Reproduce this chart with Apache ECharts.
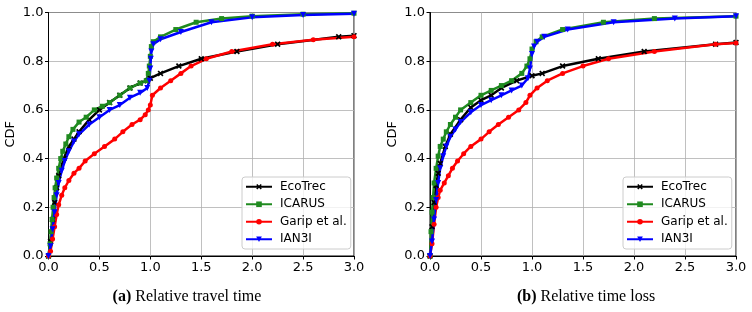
<!DOCTYPE html>
<html>
<head>
<meta charset="utf-8">
<script src="https://cdn.jsdelivr.net/npm/echarts@6/dist/echarts.min.js"></script>
<style>
  html, body { margin: 0; padding: 0; background: #fff; }
  #chart { width: 752px; height: 312px; }
</style>
</head>
<body>
<div id="chart"></div>
<script>
// tick labels / axis values
const xTicks = [0, 0.5, 1, 1.5, 2, 2.5, 3];
const yTicks = [0, 0.2, 0.4, 0.6, 0.8, 1.0];
const methods = ['EcoTrec', 'ICARUS', 'Garip et al.', 'IAN3I'];
const captions = ['Relative travel time', 'Relative time loss'];

// (a) relative travel time, [x, CDF]
const travelEcoTrec = [[0,0],[0.02,0.06],[0.04,0.15],[0.06,0.22],[0.08,0.28],[0.1,0.33],[0.15,0.4],[0.2,0.45],[0.25,0.48],[0.3,0.51],[0.4,0.56],[0.5,0.6],[0.6,0.63],[0.7,0.66],[0.8,0.69],[0.9,0.71],[0.97,0.72],[1.0,0.73],[1.1,0.75],[1.28,0.78],[1.5,0.81],[1.85,0.84],[2.25,0.87],[2.85,0.9],[3.0,0.905]];
const travelIcarus = [[0,0],[0.015,0.05],[0.025,0.1],[0.035,0.15],[0.045,0.2],[0.055,0.24],[0.065,0.28],[0.08,0.32],[0.1,0.36],[0.12,0.4],[0.14,0.43],[0.17,0.46],[0.2,0.49],[0.24,0.52],[0.3,0.55],[0.37,0.57],[0.45,0.6],[0.53,0.615],[0.6,0.63],[0.7,0.66],[0.8,0.69],[0.9,0.71],[0.96,0.72],[0.98,0.75],[0.99,0.78],[1.0,0.82],[1.01,0.86],[1.03,0.88],[1.1,0.9],[1.25,0.93],[1.45,0.96],[1.7,0.975],[2.0,0.985],[2.5,0.993],[3.0,0.997]];
const travelGarip = [[0,0],[0.02,0.02],[0.04,0.07],[0.06,0.12],[0.08,0.17],[0.1,0.21],[0.13,0.25],[0.16,0.28],[0.2,0.31],[0.25,0.34],[0.3,0.36],[0.36,0.39],[0.45,0.42],[0.55,0.45],[0.65,0.48],[0.73,0.51],[0.82,0.54],[0.9,0.56],[0.95,0.58],[0.98,0.6],[1.0,0.62],[1.02,0.66],[1.1,0.69],[1.2,0.72],[1.3,0.75],[1.4,0.78],[1.55,0.81],[1.8,0.84],[2.2,0.87],[2.6,0.888],[3.0,0.9]];
const travelIan3i = [[0,0],[0.02,0.04],[0.04,0.11],[0.06,0.18],[0.08,0.25],[0.1,0.3],[0.13,0.35],[0.16,0.39],[0.2,0.43],[0.25,0.47],[0.3,0.5],[0.4,0.54],[0.5,0.57],[0.6,0.6],[0.7,0.62],[0.8,0.65],[0.9,0.67],[0.97,0.69],[0.99,0.72],[1.0,0.77],[1.005,0.81],[1.01,0.84],[1.03,0.87],[1.1,0.89],[1.3,0.92],[1.6,0.96],[2.0,0.98],[2.5,0.99],[3.0,0.995]];

// (b) relative time loss, [x, CDF]
const lossEcoTrec = [[0,0],[0.02,0.12],[0.04,0.22],[0.06,0.29],[0.08,0.34],[0.1,0.38],[0.15,0.45],[0.2,0.5],[0.3,0.56],[0.4,0.61],[0.5,0.64],[0.6,0.66],[0.7,0.69],[0.85,0.72],[1.0,0.74],[1.1,0.75],[1.3,0.78],[1.65,0.81],[2.1,0.84],[2.8,0.87],[3.0,0.877]];
const lossIcarus = [[0,0],[0.01,0.1],[0.02,0.18],[0.03,0.24],[0.04,0.3],[0.06,0.36],[0.08,0.41],[0.1,0.45],[0.13,0.48],[0.16,0.51],[0.2,0.54],[0.25,0.57],[0.3,0.6],[0.4,0.63],[0.5,0.66],[0.6,0.68],[0.7,0.7],[0.8,0.72],[0.9,0.75],[0.95,0.78],[0.98,0.81],[1.0,0.85],[1.04,0.88],[1.1,0.9],[1.3,0.93],[1.7,0.96],[2.2,0.975],[3.0,0.985]];
const lossGarip = [[0,0],[0.02,0.05],[0.04,0.13],[0.06,0.2],[0.08,0.24],[0.1,0.27],[0.14,0.3],[0.18,0.33],[0.22,0.36],[0.27,0.39],[0.33,0.42],[0.4,0.45],[0.5,0.48],[0.58,0.51],[0.67,0.54],[0.77,0.57],[0.87,0.6],[0.94,0.63],[0.98,0.66],[1.05,0.69],[1.15,0.72],[1.3,0.75],[1.5,0.78],[1.75,0.81],[2.2,0.84],[2.8,0.87],[3.0,0.875]];
const lossIan3i = [[0,0],[0.02,0.06],[0.04,0.15],[0.06,0.23],[0.08,0.3],[0.1,0.36],[0.13,0.41],[0.16,0.45],[0.2,0.49],[0.25,0.52],[0.3,0.55],[0.4,0.59],[0.5,0.62],[0.6,0.64],[0.7,0.66],[0.8,0.68],[0.9,0.7],[0.96,0.73],[0.98,0.77],[1.0,0.83],[1.02,0.86],[1.05,0.88],[1.12,0.9],[1.35,0.93],[1.8,0.96],[2.4,0.975],[3.0,0.985]];

const chart = echarts.init(document.getElementById('chart'));

const colors = ['#000000', '#1f8a1f', '#ff0000', '#0000ff'];
const xMark = 'path://M0,2 L2,0 L5,3 L8,0 L10,2 L7,5 L10,8 L8,10 L5,7 L2,10 L0,8 L3,5 Z';
const symbols = [xMark, 'rect', 'circle', 'triangle'];
const symbolSizes = [6, 5, 5, 6];
const rotations = [0, 0, 0, 180];

const axisFont = { fontFamily: 'DejaVu Sans', fontSize: 13, color: '#000' };

function makeX(gi) {
  return {
    type: 'value', gridIndex: gi, min: 0, max: 3, interval: 0.5,
    axisLine: { show: true, lineStyle: { color: '#000', width: 1 } },
    axisTick: { show: true, length: 3.5, lineStyle: { color: '#000' } },
    axisLabel: Object.assign({ margin: 5, formatter: v => v.toFixed(1) }, axisFont),
    splitLine: { show: true, lineStyle: { color: '#b0b0b0', width: 0.8 } }
  };
}
function makeY(gi) {
  return {
    type: 'value', gridIndex: gi, min: 0, max: 1, interval: 0.2,
    name: 'CDF', nameLocation: 'middle', nameGap: 31,
    nameTextStyle: { fontFamily: 'DejaVu Sans', fontSize: 13, color: '#000' },
    axisLine: { show: true, lineStyle: { color: '#000', width: 1 } },
    axisTick: { show: true, length: 3.5, lineStyle: { color: '#000' } },
    axisLabel: Object.assign({ margin: 5, formatter: v => v.toFixed(1) }, axisFont),
    splitLine: { show: true, lineStyle: { color: '#b0b0b0', width: 0.8 } }
  };
}

const panels = [
  [travelEcoTrec, travelIcarus, travelGarip, travelIan3i],
  [lossEcoTrec, lossIcarus, lossGarip, lossIan3i]
];

const series = [];
panels.forEach((sets, gi) => {
  sets.forEach((data, i) => {
    series.push({
      name: methods[i], type: 'line', xAxisIndex: gi, yAxisIndex: gi,
      data: data, symbol: symbols[i], symbolSize: symbolSizes[i], symbolRotate: rotations[i],
      showSymbol: true, showAllSymbol: true,
      lineStyle: { color: colors[i], width: 2.5 },
      itemStyle: { color: colors[i], borderWidth: 0 },
      emphasis: { disabled: true },
      animation: false
    });
  });
});

function makeLegend(left) {
  return {
    data: methods, orient: 'vertical', left: left, top: 177,
    backgroundColor: 'rgba(255,255,255,0.8)', borderColor: '#cccccc', borderWidth: 1, borderRadius: 3,
    padding: [2, 4, 2, 3], itemGap: 2, itemWidth: 26, itemHeight: 7,
    textStyle: { fontFamily: 'DejaVu Sans', fontSize: 12, color: '#000', lineHeight: 15.5, padding: [0, 0, 0, 3] },
    selectedMode: false
  };
}

const captionStyle = {
  fontFamily: 'Liberation Serif', fontSize: 16, fontWeight: 'normal', color: '#000',
  rich: { b: { fontFamily: 'Liberation Serif', fontSize: 16, fontWeight: 'bold' } }
};

const option = {
  animation: false,
  grid: [
    { left: 48.5, right: 398, top: 12.5, bottom: 56, show: true, borderColor: '#000', borderWidth: 1, containLabel: false },
    { left: 430, right: 16, top: 12.5, bottom: 56, show: true, borderColor: '#000', borderWidth: 1, containLabel: false }
  ],
  xAxis: [makeX(0), makeX(1)],
  yAxis: [makeY(0), makeY(1)],
  legend: [makeLegend(242), makeLegend(623)],
  title: [
    { text: '{b|(a)} ' + captions[0], left: 182, top: 284, textAlign: 'center', textStyle: captionStyle },
    { text: '{b|(b)} ' + captions[1], left: 581, top: 284, textAlign: 'center', textStyle: captionStyle }
  ],
  series: series
};

chart.setOption(option);
window.addEventListener('resize', () => chart.resize());
</script>
</body>
</html>
